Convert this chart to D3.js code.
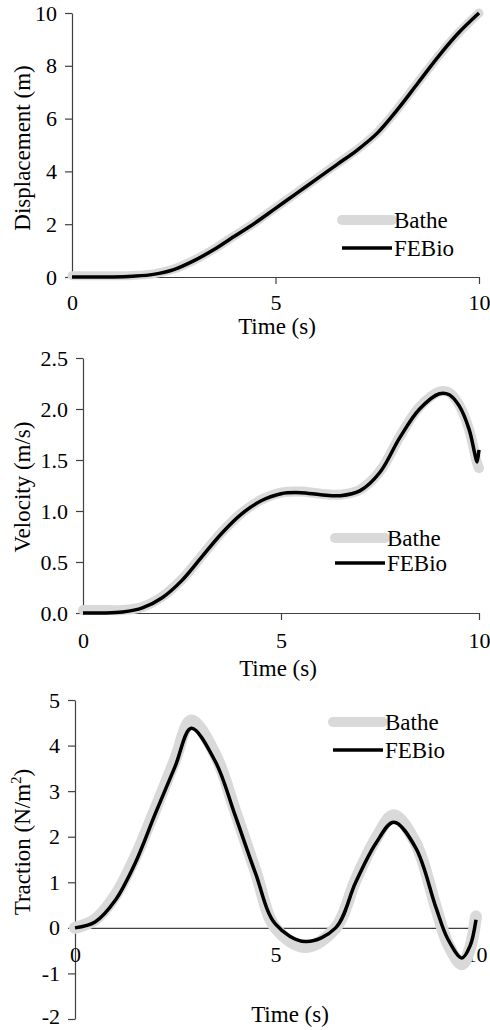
<!DOCTYPE html>
<html>
<head>
<meta charset="utf-8">
<script src="https://cdn.jsdelivr.net/npm/d3@7"></script>
<style>
  body { margin: 0; background: #fff; }
</style>
</head>
<body>
<div id="chart"></div>
<script>
// size of the whole figure
const width = 490
const height = 1030
const serif = "'Liberation Serif', 'Times New Roman', serif"

// Displacement (m) vs time (s)
const dispTime  = [0, 0.5, 1, 1.5, 2, 2.5, 3, 3.5, 4, 4.5, 5, 5.5, 6, 6.5, 7, 7.5, 8, 8.5, 9, 9.5, 10]
const dispFEBio = [0, 0, 0, 0.03, 0.1, 0.28, 0.62, 1.05, 1.55, 2.05, 2.6, 3.15, 3.7, 4.25, 4.8, 5.45, 6.35, 7.35, 8.35, 9.25, 10]
const dispBathe = [0.05, 0.05, 0.05, 0.06, 0.12, 0.3, 0.64, 1.07, 1.57, 2.07, 2.62, 3.17, 3.72, 4.27, 4.82, 5.47, 6.37, 7.37, 8.36, 9.25, 10]

// Velocity (m/s) vs time (s)
const velTime  = [0, 0.5, 1, 1.5, 2, 2.5, 3, 3.5, 4, 4.5, 5, 5.5, 6, 6.5, 7, 7.5, 8, 8.5, 9, 9.25, 9.5, 9.75, 9.9, 9.95, 10]
const velFEBio = [0, 0, 0.01, 0.05, 0.15, 0.32, 0.55, 0.78, 0.97, 1.1, 1.17, 1.18, 1.16, 1.15, 1.2, 1.38, 1.72, 2.0, 2.15, 2.14, 2.03, 1.8, 1.55, 1.48, 1.6]
const velBathe = [0.03, 0.03, 0.03, 0.06, 0.16, 0.33, 0.56, 0.79, 0.98, 1.11, 1.18, 1.19, 1.17, 1.16, 1.21, 1.39, 1.73, 2.02, 2.17, 2.16, 2.04, 1.8, 1.55, 1.47, 1.42]

// Traction (N/m2) vs time (s)
const tracTime  = [0, 0.5, 1, 1.5, 2, 2.5, 2.9, 3.5, 4, 4.5, 5, 5.75, 6.5, 7, 7.5, 7.95, 8.5, 9, 9.3, 9.65, 9.85, 10]
const tracFEBio = [0, 0.13, 0.6, 1.42, 2.5, 3.55, 4.38, 3.65, 2.45, 1.2, 0.08, -0.3, 0.0, 1.0, 1.85, 2.32, 1.75, 0.45, -0.25, -0.66, -0.4, 0.18]
const tracBathe = [0, 0.18, 0.7, 1.55, 2.6, 3.7, 4.55, 3.8, 2.55, 1.25, 0.0, -0.42, 0.0, 1.05, 1.95, 2.47, 1.85, 0.45, -0.35, -0.8, -0.45, 0.25]

const xTicks = [0, 5, 10]
const seriesNames = ["Bathe", "FEBio"]

const svg = d3.select("#chart")
    .append("svg")
    .attr("width", width)
    .attr("height", height)

const axisColor = "#404040"
const batheColor = "#d9d9d9"

function panel(opts) {
    const x = d3.scaleLinear().domain([0, 10]).range([opts.left, opts.right])
    const y = d3.scaleLinear().domain(opts.yDomain).range(opts.yRange)
    const g = svg.append("g")

    // y axis
    const yAxis = g.append("g")
        .attr("transform", "translate(" + opts.left + ",0)")
        .call(d3.axisLeft(y).tickValues(opts.yTicks).tickFormat(opts.yFormat).tickSize(7).tickPadding(8).tickSizeOuter(0))
    // lowest label hugs the bottom edge, lift it a little
    yAxis.selectAll(".tick text").filter(d => d === opts.yDomain[0] && d < 0).attr("dy", "0.22em")
    // x axis, sits on y = 0
    const xAxis = g.append("g")
        .attr("transform", "translate(0," + y(0) + ")")
        .call(d3.axisBottom(x).tickValues(xTicks).tickFormat(d => String(d)).tickSize(opts.xTick).tickPadding(opts.xPad).tickSizeOuter(0))
    xAxis.selectAll(".tick").filter(d => d === 0).select("line").remove()

    g.selectAll(".domain, .tick line").attr("stroke", axisColor).attr("stroke-width", 1.2)
    g.selectAll(".tick text")
        .style("font-family", serif).style("font-size", "22px").attr("fill", "#000")

    const line = (vals) => d3.line()
        .x((d, i) => x(opts.time[i]))
        .y(d => y(d))
        .curve(d3.curveCatmullRom.alpha(0.5))(vals)

    g.append("path").attr("d", line(opts.bathe))
        .attr("fill", "none").attr("stroke", batheColor)
        .attr("stroke-width", opts.grayW).attr("stroke-linejoin", "round").attr("stroke-linecap", "round")
    g.append("path").attr("d", line(opts.febio))
        .attr("fill", "none").attr("stroke", "#000")
        .attr("stroke-width", 3.5).attr("stroke-linejoin", "round")

    // axis titles
    g.append("text")
        .attr("x", opts.xTitle[0]).attr("y", opts.xTitle[1])
        .attr("text-anchor", "middle")
        .style("font-family", serif).style("font-size", "23px")
        .text("Time (s)")
    const yt = g.append("text")
        .attr("transform", "translate(" + opts.yTitle[0] + "," + opts.yTitle[1] + ") rotate(-90)")
        .attr("text-anchor", "middle")
        .style("font-family", serif).style("font-size", "23px")
    opts.yLabel(yt)

    // legend
    const lg = g.append("g")
    seriesNames.forEach(function (name, i) {
        const ly = opts.legend[1] + i * opts.legend[2]
        lg.append("line")
            .attr("x1", opts.legend[0]).attr("x2", opts.legend[0] + 50)
            .attr("y1", ly).attr("y2", ly)
            .attr("stroke", i === 0 ? batheColor : "#000")
            .attr("stroke-width", i === 0 ? 10 : 3.5)
            .attr("stroke-linecap", i === 0 ? "round" : "butt")
        lg.append("text")
            .attr("x", opts.legend[0] + 52).attr("y", ly + 8)
            .style("font-family", serif).style("font-size", "23px")
            .text(name)
    })
}

panel({
    left: 72, right: 479, yDomain: [0, 10], yRange: [277, 13],
    yTicks: [0, 2, 4, 6, 8, 10], yFormat: d => String(d),
    xTick: 7, xPad: 10,
    time: dispTime, febio: dispFEBio, bathe: dispBathe, grayW: 9,
    xTitle: [277, 334], yTitle: [30, 148],
    yLabel: t => t.text("Displacement (m)"),
    legend: [342, 220, 28]
})

panel({
    left: 83, right: 479, yDomain: [0, 2.5], yRange: [613, 358],
    yTicks: [0, 0.5, 1, 1.5, 2, 2.5], yFormat: d3.format(".1f"),
    xTick: 7, xPad: 12,
    time: velTime, febio: velFEBio, bathe: velBathe, grayW: 10,
    xTitle: [278, 676], yTitle: [30, 487],
    yLabel: t => t.text("Velocity (m/s)"),
    legend: [335, 538, 25]
})

panel({
    left: 75, right: 476, yDomain: [-2, 5], yRange: [1019, 700],
    yTicks: [-2, -1, 0, 1, 2, 3, 4, 5], yFormat: d => String(d),
    xTick: 5, xPad: 14,
    time: tracTime, febio: tracFEBio, bathe: tracBathe, grayW: 12,
    xTitle: [290, 1022], yTitle: [30, 842],
    yLabel: function (t) {
        t.append("tspan").text("Traction (N/m")
        t.append("tspan").attr("dy", -9).style("font-size", "15px").text("2")
        t.append("tspan").attr("dy", 9).text(")")
    },
    legend: [333, 722, 28]
})
</script>
</body>
</html>
